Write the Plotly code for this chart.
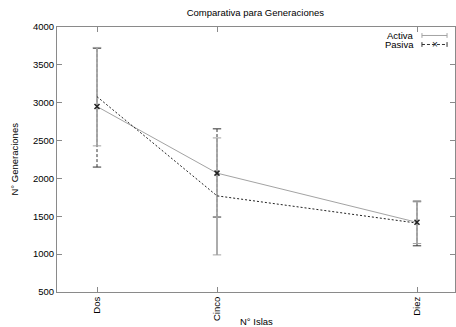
import plotly.graph_objects as go

# ---- data ----
categories = ["Dos", "Cinco", "Diez"]
islas = [2, 5, 10]

activa = [2950, 2070, 1420]
activa_low = [2430, 990, 1140]
activa_high = [3730, 2535, 1690]

pasiva = [3080, 1770, 1410]
pasiva_low = [2150, 1490, 1110]
pasiva_high = [3720, 2655, 1700]

FONT = "Liberation Sans, Arial, Helvetica, sans-serif"
GRAY_AX = "#8a8a8a"
GRAY_LN = "#a3a3a3"
DARK = "#333333"

fig = go.Figure()


def add_errbars(xs, lows, highs, color, dash, width):
    ex, ey = [], []
    for x, lo, hi in zip(xs, lows, highs):
        ex += [x, x, None]
        ey += [lo, hi, None]
    fig.add_trace(go.Scatter(x=ex, y=ey, mode="lines",
                             line=dict(color=color, width=width, dash=dash),
                             showlegend=False, hoverinfo="skip"))
    fig.add_trace(go.Scatter(x=list(xs) + list(xs), y=list(lows) + list(highs), mode="markers",
                             marker=dict(symbol="line-ew", size=6,
                                         line=dict(color=color, width=1)),
                             showlegend=False, hoverinfo="skip"))


# Pasiva error bars (dashed, dark) then Activa error bars (solid gray) on top
add_errbars(islas, pasiva_low, pasiva_high, DARK, "3px,2px", 1)
add_errbars(islas, activa_low, activa_high, GRAY_LN, "solid", 1.8)

# Activa line (solid gray)
fig.add_trace(go.Scatter(x=islas, y=activa, mode="lines", name="Activa",
                         line=dict(color=GRAY_LN, width=1), showlegend=False))

# Pasiva line (dotted black)
fig.add_trace(go.Scatter(x=islas, y=pasiva, mode="lines", name="Pasiva",
                         line=dict(color="#222222", width=1, dash="2px,2px"),
                         showlegend=False))

# x markers
fig.add_trace(go.Scatter(x=islas, y=activa, mode="markers",
                         marker=dict(symbol="x-thin", size=5, line=dict(color="#222222", width=1.5)),
                         showlegend=False, hoverinfo="skip"))

# manual legend (paper coordinates)
leg = [("Activa", "solid", GRAY_LN, 0.968), ("Pasiva", "3px,2px", DARK, 0.934)]
for name, dash, col, yp in leg:
    fig.add_annotation(x=0.903, y=yp, xref="paper", yref="paper", text=name,
                       showarrow=False, xanchor="right", yanchor="middle",
                       font=dict(family=FONT, size=9.5, color="black"))
    fig.add_shape(type="line", xref="paper", yref="paper", x0=0.917, x1=0.98, y0=yp, y1=yp,
                  line=dict(color=col, width=1, dash=dash))
    for xe in (0.917, 0.98):
        fig.add_shape(type="line", xref="paper", yref="paper", x0=xe, x1=xe,
                      y0=yp - 0.009, y1=yp + 0.009, line=dict(color=col, width=1))
fig.add_annotation(x=0.949, y=0.934, xref="paper", yref="paper", text="×",
                   showarrow=False, font=dict(family=FONT, size=10, color="#222222"),
                   xanchor="center", yanchor="middle")

fig.update_layout(
    width=456, height=327,
    margin=dict(l=57, r=1, t=27, b=35, autoexpand=False),
    paper_bgcolor="white", plot_bgcolor="white",
    font=dict(family=FONT, size=9.5, color="black"),
    title=dict(text="Comparativa para Generaciones", x=0.56, xanchor="center",
               y=0.96, yanchor="middle", font=dict(family=FONT, size=9.5)),
    showlegend=False,
)
fig.update_xaxes(range=[1, 10.95], tickvals=islas, ticktext=categories, tickangle=-90,
                 ticks="inside", ticklen=5, tickcolor=GRAY_AX, showline=True,
                 linecolor=GRAY_AX, linewidth=1, mirror="ticks", showgrid=False,
                 zeroline=False, automargin=False, tickfont=dict(family=FONT, size=9.5))
fig.update_yaxes(range=[500, 4000], dtick=500, ticks="inside", ticklen=5,
                 tickcolor=GRAY_AX, showline=True, linecolor=GRAY_AX, linewidth=1,
                 mirror="ticks", showgrid=False, zeroline=False, automargin=False,
                 tickfont=dict(family=FONT, size=9.5))

fig.add_annotation(x=0.5, y=-0.113, xref="paper", yref="paper", text="N° Islas",
                   showarrow=False, xanchor="center", yanchor="middle",
                   font=dict(family=FONT, size=9.5))
fig.add_annotation(x=-0.108, y=0.5, xref="paper", yref="paper", text="N° Generaciones",
                   showarrow=False, textangle=-90, xanchor="center", yanchor="middle",
                   font=dict(family=FONT, size=9.5))

fig.write_html("out.html", config={"displayModeBar": False},
               post_script="document.body.style.margin='0px';document.body.style.overflow='hidden';")
